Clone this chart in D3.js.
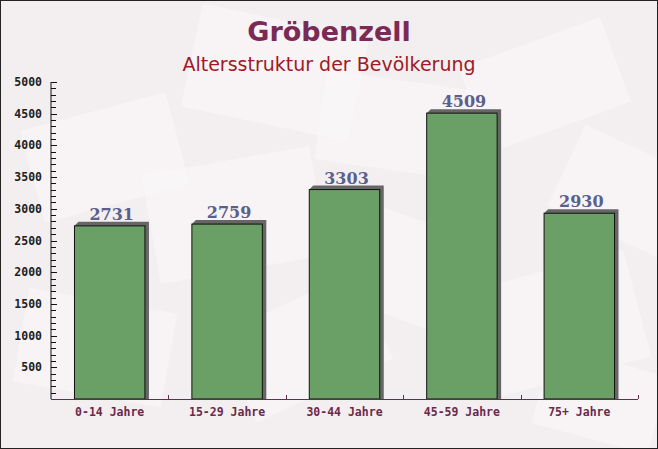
<!DOCTYPE html>
<html><head><meta charset="utf-8">
<script src="https://cdn.jsdelivr.net/npm/d3@7"></script>
<style>body{margin:0;padding:0;overflow:hidden;background:#fff}</style>
</head><body>
<svg id="c" width="658" height="449"></svg>
<script>
const categories = ["0-14 Jahre","15-29 Jahre","30-44 Jahre","45-59 Jahre","75+ Jahre"];
const values = [2731, 2759, 3303, 4509, 2930];
const yTicks = [500,1000,1500,2000,2500,3000,3500,4000,4500,5000];
const title = "Gröbenzell";
const subtitle = "Altersstruktur der Bevölkerung";

const W = 658, H = 449;
const m = {left: 51, right: 20, top: 82, bottom: 50};
const svg = d3.select("#c");

// background
svg.append("rect").attr("width", W).attr("height", H).attr("fill", "#f3eff1");
// faint envelope decorations
const env = [[30,110,150,95,-15],[190,20,170,105,12],[470,40,150,90,-20],[560,150,140,90,25],[150,160,170,110,-10],[330,220,160,100,20],[470,270,170,110,-15],[20,300,150,95,10],[230,300,150,95,-25],[540,360,120,80,15],[320,80,150,90,8]];
svg.append("g").selectAll("rect").data(env).join("rect")
  .attr("x", d=>d[0]).attr("y", d=>d[1]).attr("width", d=>d[2]).attr("height", d=>d[3])
  .attr("transform", d=>`rotate(${d[4]},${d[0]+d[2]/2},${d[1]+d[3]/2})`)
  .attr("fill", "#f9f7f8").attr("opacity", 0.7);
svg.append("rect").attr("x",0.5).attr("y",0.5).attr("width",W-1).attr("height",H-1)
  .attr("fill","none").attr("stroke","#222").attr("stroke-width",1);

const x = d3.scaleBand().domain(categories).range([m.left, 638]).paddingInner(0.4).paddingOuter(0.2);
const xb = d3.scaleBand().domain(categories).range([m.left, 638]);
const y = d3.scaleLinear().domain([0, 5000]).range([399, 82]);

// title
svg.append("text").attr("x", 329).attr("y", 41).attr("text-anchor","middle")
  .attr("font-family","DejaVu Sans").attr("font-weight","bold").attr("font-size",27)
  .attr("fill","#7b2a55").text(title);
svg.append("text").attr("x", 329).attr("y", 71).attr("text-anchor","middle")
  .attr("font-family","DejaVu Sans").attr("font-size",19)
  .attr("fill","#9e1a26").text(subtitle);

// bars
const g = svg.append("g");
const off = 4;
g.selectAll("path.sh").data(values).join("path").attr("class","sh")
  .attr("d", (d,i)=>{
    const x0 = x(categories[i]), x1 = x0 + x.bandwidth(), yt = y(d), yb = y(0);
    return `M${x0},${yt} L${x0+off},${yt-off} L${x1+off},${yt-off} L${x1+off},${yb} L${x1},${yb} Z`;
  })
  .attr("fill","#666");
g.selectAll("rect.bar").data(values).join("rect").attr("class","bar")
  .attr("x",(d,i)=>x(categories[i])).attr("y",d=>y(d))
  .attr("width",x.bandwidth()).attr("height",d=>y(0)-y(d))
  .attr("fill","#6aa065").attr("stroke","#111").attr("stroke-width",1);
g.selectAll("text.v").data(values).join("text").attr("class","v")
  .attr("x",(d,i)=>x(categories[i])+x.bandwidth()/2+2).attr("y",d=>y(d)-6)
  .attr("text-anchor","middle").attr("font-family","DejaVu Serif").attr("font-weight","bold")
  .attr("font-size",16).attr("fill","#5a5f8c").text(d=>d);

// y axis
const ya = svg.append("g").attr("transform",`translate(${m.left},0)`);
ya.append("line").attr("x1",0).attr("x2",0).attr("y1",y(5000)).attr("y2",y(0)).attr("stroke","#111");
const minor = d3.range(100, 5001, 100);
ya.selectAll("line.mt").data(minor).join("line").attr("class","mt")
  .attr("x1",0).attr("x2",d=>d%500===0?6:5).attr("y1",d=>Math.round(y(d))+0.5).attr("y2",d=>Math.round(y(d))+0.5)
  .attr("stroke","#111");
ya.selectAll("text").data(yTicks).join("text")
  .attr("x",-9).attr("y",d=>y(d)+4).attr("text-anchor","end")
  .attr("font-family","DejaVu Sans Mono").attr("font-weight","bold").attr("font-size",11.5)
  .attr("fill","#222").text(d=>d);

// x axis
const xa = svg.append("g");
xa.append("line").attr("x1",m.left).attr("x2",638).attr("y1",399.5).attr("y2",399.5).attr("stroke","#6b2a4a");
xa.selectAll("line.xt").data(categories).join("line").attr("class","xt")
  .attr("x1",d=>Math.round(xb(d)+xb.bandwidth())+0.5).attr("x2",d=>Math.round(xb(d)+xb.bandwidth())+0.5)
  .attr("y1",399).attr("y2",395).attr("stroke","#6b2a4a");
xa.selectAll("text").data(categories).join("text")
  .attr("x",d=>xb(d)+xb.bandwidth()/2).attr("y",416).attr("text-anchor","middle")
  .attr("font-family","DejaVu Sans Mono").attr("font-weight","bold").attr("font-size",11.5)
  .attr("fill","#6b2a4a").text(d=>d);
</script>
</body></html>
